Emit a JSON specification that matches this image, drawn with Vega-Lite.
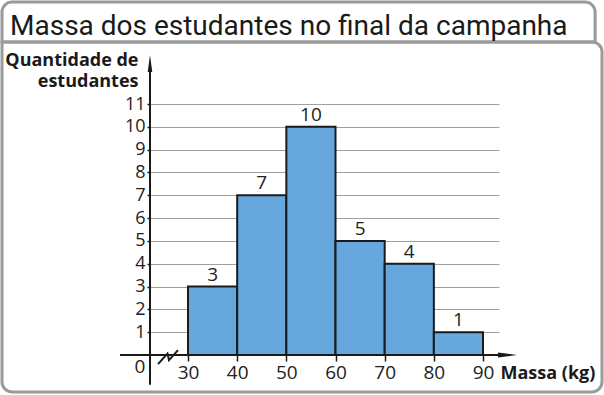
{
  "$schema": "https://vega.github.io/schema/vega-lite/v6.json",
  "width": 349,
  "height": 298,
  "autosize": {"type": "none"},
  "padding": {"left": 150, "top": 57, "right": 105, "bottom": 40},
  "background": "white",
  "title": {
    "text": "Massa dos estudantes no final da campanha",
    "anchor": "start",
    "frame": "group",
    "dx": -140,
    "dy": 46,
    "font": "Roboto",
    "fontSize": 28,
    "fontWeight": "normal",
    "color": "#1a1a1a",
    "offset": 6
  },
  "config": {
    "view": {"stroke": null},
    "font": "Open Sans"
  },
  "datasets": {
    "one": [{"k": 1}]
  },
  "data": {
    "values": [
      {"start": 30, "end": 40, "mid": 35, "count": 3},
      {"start": 40, "end": 50, "mid": 45, "count": 7},
      {"start": 50, "end": 60, "mid": 55, "count": 10},
      {"start": 60, "end": 70, "mid": 65, "count": 5},
      {"start": 70, "end": 80, "mid": 75, "count": 4},
      {"start": 80, "end": 90, "mid": 85, "count": 1}
    ]
  },
  "layer": [
    {
      "data": {"name": "one"},
      "mark": {"type": "rect", "fill": null, "stroke": "#9a9a9a", "strokeWidth": 3, "cornerRadiusTopRight": 10, "cornerRadiusBottomLeft": 10, "cornerRadiusBottomRight": 10},
      "encoding": {
        "x": {"datum": -7.83, "type": "quantitative"},
        "x2": {"datum": 114.2},
        "y": {"datum": 13.72, "type": "quantitative"},
        "y2": {"datum": -1.62}
      }
    },
    {
      "data": {"name": "one"},
      "mark": {"type": "rect", "fill": null, "stroke": "#9a9a9a", "strokeWidth": 3, "cornerRadiusTopLeft": 10, "cornerRadiusTopRight": 10},
      "encoding": {
        "x": {"datum": -7.83, "type": "quantitative"},
        "x2": {"datum": 112.8},
        "y": {"datum": 15.47, "type": "quantitative"},
        "y2": {"datum": 13.72}
      }
    },
    {
      "mark": {"type": "rect", "fill": "#66a8de", "stroke": "#1a1a1a", "strokeWidth": 2},
      "encoding": {
        "x": {
          "field": "start",
          "type": "quantitative",
          "scale": {"domain": [22.27, 93.25], "nice": false, "zero": false},
          "axis": {
            "values": [30, 40, 50, 60, 70, 80, 90],
            "tickCount": 20,
            "format": "d",
            "domain": false,
            "grid": false,
            "ticks": true,
            "tickSize": 6,
            "tickColor": "#1a1a1a",
            "tickWidth": 1.5,
            "labelFontSize": 19,
            "labelColor": "#222",
            "labelPadding": 2,
            "labelOverlap": false,
            "title": "Massa (kg)",
            "titleX": 350,
            "titleY": 23,
            "titleAlign": "left",
            "titleAnchor": null,
            "titleBaseline": "alphabetic",
            "titleFontSize": 18,
            "titleFontWeight": "bold",
            "titleColor": "#1a1a1a"
          }
        },
        "x2": {"field": "end"},
        "y": {
          "field": "count",
          "type": "quantitative",
          "scale": {"domain": [0, 13.06], "nice": false},
          "axis": {
            "values": [1, 2, 3, 4, 5, 6, 7, 8, 9, 10, 11],
            "tickCount": 20,
            "format": "d",
            "domain": false,
            "grid": true,
            "gridColor": "#a0a0a0",
            "gridWidth": 1,
            "ticks": true,
            "tickSize": 3,
            "tickColor": "#1a1a1a",
            "tickWidth": 1.5,
            "labelFontSize": 18,
            "labelColor": "#222",
            "labelPadding": 2,
            "labelOverlap": false,
            "title": ["Quantidade de", "estudantes"],
            "titleX": -12,
            "titleY": 8,
            "titleAngle": 0,
            "titleAlign": "right",
            "titleAnchor": null,
            "titleBaseline": "alphabetic",
            "titleLineHeight": 21,
            "titleFontSize": 18,
            "titleFontWeight": "bold",
            "titleColor": "#1a1a1a"
          }
        },
        "y2": {"datum": 0}
      }
    },
    {
      "mark": {"type": "text", "baseline": "bottom", "dy": -2, "fontSize": 19, "color": "#222"},
      "encoding": {
        "x": {"field": "mid", "type": "quantitative"},
        "y": {"field": "count", "type": "quantitative"},
        "text": {"field": "count"}
      }
    },
    {
      "data": {"name": "one"},
      "mark": {"type": "rule", "color": "#1a1a1a", "strokeWidth": 2},
      "encoding": {
        "x": {"datum": 22.27, "type": "quantitative"},
        "y": {"datum": -1.3, "type": "quantitative"},
        "y2": {"datum": 12.6}
      }
    },
    {
      "data": {"name": "one"},
      "mark": {"type": "rule", "color": "#1a1a1a", "strokeWidth": 2},
      "encoding": {
        "x": {"datum": 16.17, "type": "quantitative"},
        "x2": {"datum": 94.5},
        "y": {"datum": 0, "type": "quantitative"}
      }
    },
    {
      "data": {"name": "one"},
      "mark": {"type": "point", "shape": "M0,-1L0.27,1L-0.27,1Z", "filled": true, "color": "#1a1a1a", "size": 289, "opacity": 1},
      "encoding": {
        "x": {"datum": 22.27, "type": "quantitative"},
        "y": {"datum": 12.77, "type": "quantitative"}
      }
    },
    {
      "data": {"name": "one"},
      "mark": {"type": "point", "shape": "M1,0L-1,0.27L-1,-0.27Z", "filled": true, "color": "#1a1a1a", "size": 361, "opacity": 1},
      "encoding": {
        "x": {"datum": 94.98, "type": "quantitative"},
        "y": {"datum": 0, "type": "quantitative"}
      }
    },
    {
      "data": {"name": "one"},
      "mark": {"type": "point", "shape": "M-1,0.7L-0.05,-0.35L0.1,0.3L1,-0.7", "filled": false, "color": "#1a1a1a", "strokeWidth": 2, "size": 400, "opacity": 1},
      "encoding": {
        "x": {"datum": 25.93, "type": "quantitative"},
        "y": {"datum": -0.09, "type": "quantitative"}
      }
    },
    {
      "data": {"name": "one"},
      "mark": {"type": "text", "fontSize": 19, "color": "#222", "baseline": "middle", "align": "center"},
      "encoding": {
        "x": {"datum": 20.24, "type": "quantitative"},
        "y": {"datum": -0.53, "type": "quantitative"},
        "text": {"value": "0"}
      }
    }
  ]
}
